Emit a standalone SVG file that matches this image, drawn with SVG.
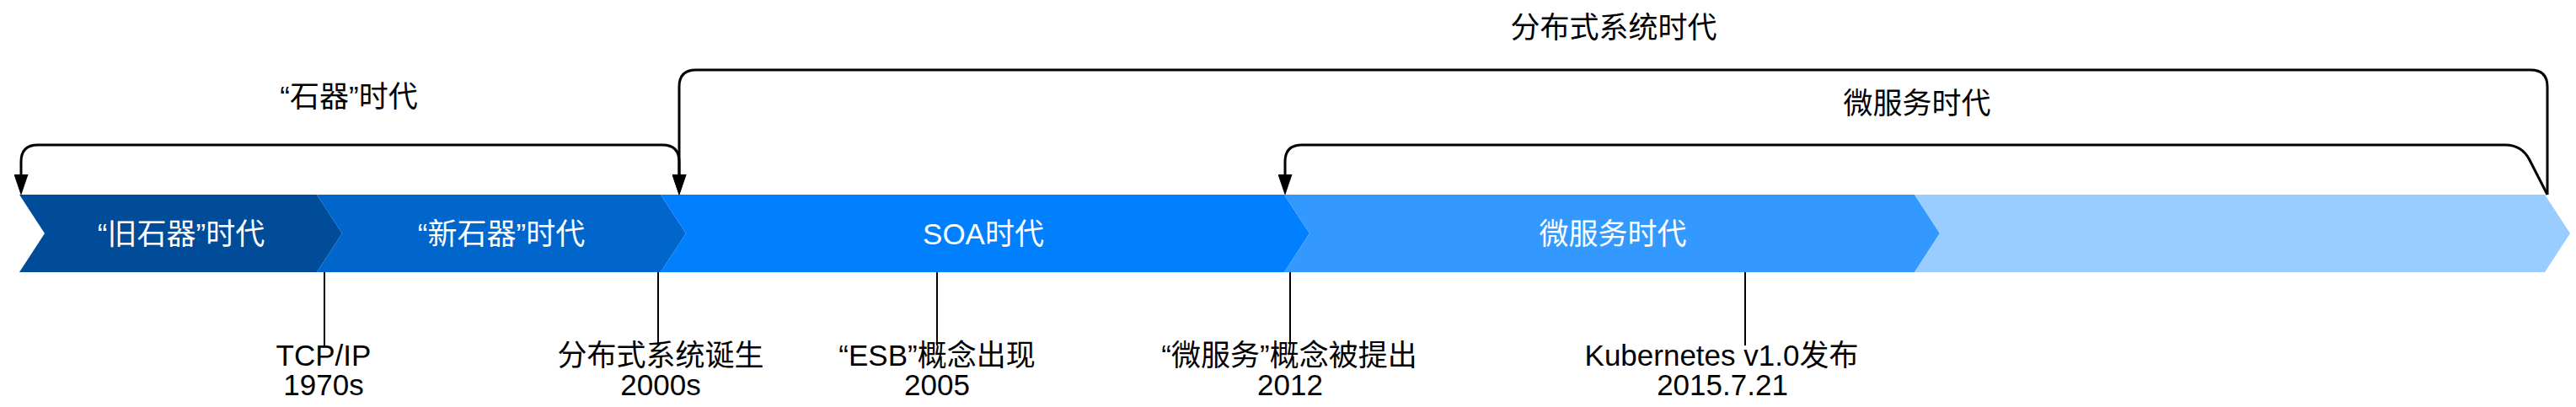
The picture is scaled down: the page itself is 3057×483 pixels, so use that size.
<svg xmlns="http://www.w3.org/2000/svg" width="3057" height="483" viewBox="0 0 3057 483">
<style>
text{font-family:"Liberation Sans","Noto Sans CJK SC",sans-serif;font-size:35px;text-anchor:middle}
.w{fill:#ffffff}
.b{fill:#000000}
.conn{fill:none;stroke:#000;stroke-width:3}
.tick{fill:none;stroke:#000;stroke-width:2}
</style>
<defs>
<marker id="arr" viewBox="0 0 25 17" markerWidth="25" markerHeight="17" refX="0" refY="8.5" orient="auto-start-reverse" markerUnits="userSpaceOnUse">
<path d="M0 0 L25 8.5 L0 17 Z" fill="#000"/>
</marker>
</defs>
<rect width="3057" height="483" fill="#ffffff"/>
<g id="seg1"><polygon points="23,231 376,231 406,277 376,323 23,323 53,277" fill="#004C99"/><text class="w" x="215" y="290">“旧石器”时代</text></g>
<g id="seg2"><polygon points="376,231 784,231 814,277 784,323 376,323 406,277" fill="#0066CC"/><text class="w" x="595" y="290">“新石器”时代</text></g>
<g id="seg3"><polygon points="784,231 1524,231 1554,277 1524,323 784,323 814,277" fill="#007FFF"/><text class="w" x="1167" y="290">SOA时代</text></g>
<g id="seg4"><polygon points="1524,231 2272,231 2302,277 2272,323 1524,323 1554,277" fill="#3399FF"/><text class="w" x="1914" y="290">微服务时代</text></g>
<g id="seg5"><polygon points="2272,231 3020,231 3050,277 3020,323 2272,323 2302,277" fill="#99CCFF"/></g>
<g id="labels">
<text class="b" x="414" y="127">“石器”时代</text>
<text class="b" x="1915" y="45">分布式系统时代</text>
<text class="b" x="2275" y="135">微服务时代</text>
</g>
<g id="connectors">
<path class="conn" d="M25 207 L25 192 Q25 172 45 172 L786 172 Q806 172 806 192 L806 207" marker-start="url(#arr)" marker-end="url(#arr)"/>
<path class="conn" d="M3023 231 L3023 103 Q3023 83 3003 83 L826 83 Q806 83 806 103 L806 207" marker-end="url(#arr)"/>
<path class="conn" d="M3023 231 L3002 190 Q2993 172 2973 172 L1545 172 Q1525 172 1525 192 L1525 207" marker-end="url(#arr)"/>
<path class="tick" d="M385 323 L385 410 M781 323 L781 410 M1112 323 L1112 410 M1531 323 L1531 410 M2071 323 L2071 410"/>
</g>
<g id="ev1"><text class="b" x="384" y="434">TCP/IP</text><text class="b" x="384" y="469">1970s</text></g>
<g id="ev2"><text class="b" x="784" y="434">分布式系统诞生</text><text class="b" x="784" y="469">2000s</text></g>
<g id="ev3"><text class="b" x="1112" y="434">“ESB”概念出现</text><text class="b" x="1112" y="469">2005</text></g>
<g id="ev4"><text class="b" x="1530" y="434">“微服务”概念被提出</text><text class="b" x="1531" y="469">2012</text></g>
<g id="ev5"><text class="b" x="2043" y="434">Kubernetes v1.0发布</text><text class="b" x="2044" y="469">2015.7.21</text></g>
</svg>
